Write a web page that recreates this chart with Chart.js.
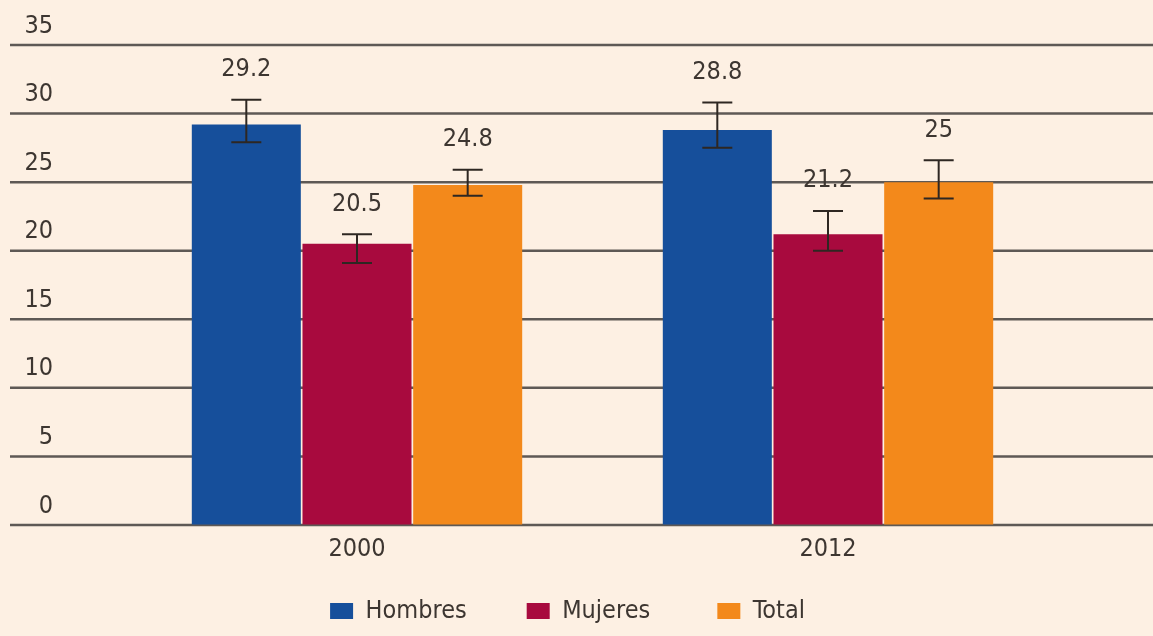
<!DOCTYPE html>
<html>
<head>
<meta charset="utf-8">
<script src="https://cdn.jsdelivr.net/npm/chart.js@4"></script>
<style>
  html, body { margin: 0; padding: 0; background: #fdf0e3; }
  #wrap { width: 1153px; height: 636px; }
</style>
</head>
<body>
<div id="wrap"><canvas id="myChart"></canvas></div>
<script>
// data
var years = ['2000', '2012'];
var hombres = [29.2, 28.8];
var mujeres = [20.5, 21.2];
var total = [24.8, 25];
// error bar ranges [low, high] for each year
var hombresErr = [[27.9, 31.0], [27.5, 30.8]];
var mujeresErr = [[19.1, 21.2], [20.0, 22.9]];
var totalErr = [[24.0, 25.9], [23.8, 26.6]];

var textColor = '#3d3631';
var fontFamily = "'Liberation Sans Narrow', 'DejaVu Sans Condensed', 'Roboto Condensed', sans-serif";
Chart.defaults.font.family = fontFamily;
Chart.defaults.font.size = 25;
Chart.defaults.color = textColor;

// grid lines run across the whole picture, not only the plot area
var fullGrid = {
    id: 'fullGrid',
    beforeDatasetsDraw: function (chart) {
        var y = chart.scales.y, ctx = chart.ctx;
        ctx.save();
        ctx.strokeStyle = '#5e5955';
        ctx.lineWidth = 2.5;
        y.ticks.forEach(function (t) {
            var py = y.getPixelForValue(t.value);
            ctx.beginPath();
            ctx.moveTo(10, py);
            ctx.lineTo(chart.width, py);
            ctx.stroke();
        });
        ctx.restore();
    }
};

// error bars + value labels
var errorBars = {
    id: 'errorBars',
    afterDatasetsDraw: function (chart) {
        var ctx = chart.ctx, y = chart.scales.y;
        ctx.save();
        chart.data.datasets.forEach(function (ds, i) {
            var meta = chart.getDatasetMeta(i);
            meta.data.forEach(function (bar, j) {
                var lo = y.getPixelForValue(ds.err[j][0]);
                var hi = y.getPixelForValue(ds.err[j][1]);
                ctx.strokeStyle = '#2e2722';
                ctx.lineWidth = 2;
                ctx.beginPath();
                ctx.moveTo(bar.x, lo); ctx.lineTo(bar.x, hi);
                ctx.moveTo(bar.x - 15, hi); ctx.lineTo(bar.x + 15, hi);
                ctx.moveTo(bar.x - 15, lo); ctx.lineTo(bar.x + 15, lo);
                ctx.stroke();

                ctx.fillStyle = textColor;
                ctx.font = '25px ' + fontFamily;
                ctx.textAlign = 'center';
                ctx.textBaseline = 'middle';
                ctx.fillText(String(ds.data[j]), bar.x, hi - 30);
            });
        });
        ctx.restore();
    }
};

// trailing spaces widen the gaps between legend entries
var legendSpaces = [7, 8, 7];

var ctx = document.getElementById('myChart').getContext('2d');
var chart = new Chart(ctx, {
    type: 'bar',
    data: {
        labels: years,
        datasets: [
            { label: 'Hombres', data: hombres, err: hombresErr, backgroundColor: '#164f9b', borderWidth: 0 },
            { label: 'Mujeres', data: mujeres, err: mujeresErr, backgroundColor: '#a80a3e', borderWidth: 0 },
            { label: 'Total', data: total, err: totalErr, backgroundColor: '#f3891b', borderWidth: 0 }
        ]
    },
    options: {
        responsive: true,
        maintainAspectRatio: false,
        animation: false,
        categoryPercentage: 0.705,
        barPercentage: 0.985,
        layout: { padding: { top: 45, left: 0, right: 89.5, bottom: 2.5 } },
        scales: {
            x: {
                grid: { display: false, drawTicks: false },
                border: { display: false },
                ticks: { padding: 9, color: textColor },
                afterFit: function (s) { s.height = 63.5; }
            },
            y: {
                min: 0,
                max: 35,
                // invisible tick marks push the labels out to the left edge
                grid: { display: true, drawOnChartArea: false, drawTicks: true, tickLength: 60, color: 'rgba(0,0,0,0)' },
                border: { display: false },
                ticks: { stepSize: 5, padding: 8.5, labelOffset: -19, color: textColor },
                afterFit: function (s) { s.width = 121.5; }
            }
        },
        plugins: {
            legend: {
                position: 'bottom',
                fullSize: false,
                labels: {
                    boxWidth: 23,
                    boxHeight: 16,
                    padding: 10,
                    color: textColor,
                    generateLabels: function (chart) {
                        var items = Chart.defaults.plugins.legend.labels.generateLabels(chart);
                        items.forEach(function (it, i) {
                            it.text = it.text + ' '.repeat(legendSpaces[i]);
                        });
                        return items;
                    }
                }
            },
            tooltip: { enabled: false }
        }
    },
    plugins: [fullGrid, errorBars]
});
</script>
</body>
</html>
